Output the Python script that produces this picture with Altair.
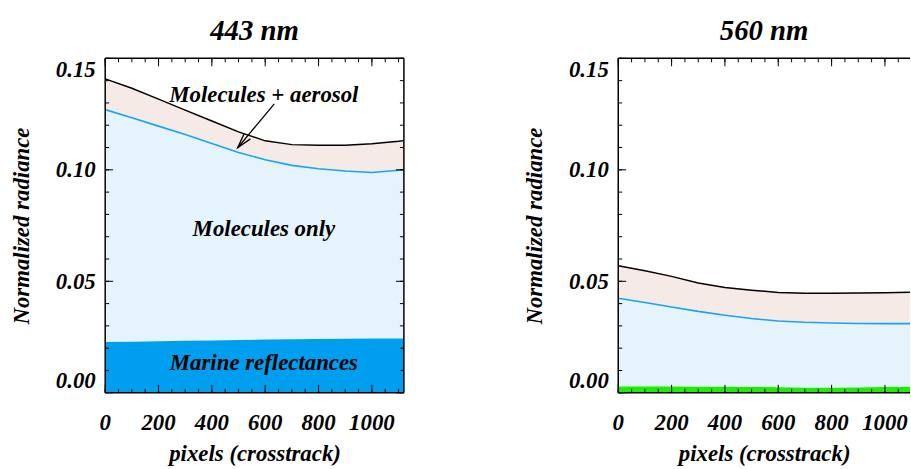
import altair as alt
import pandas as pd

# Crosstrack pixel positions at which the radiance profiles are sampled
pixels = [0, 100, 200, 300, 400, 500, 600, 700, 800, 900, 1000, 1100, 1120]

# 443 nm: top of atmosphere (molecules + aerosol), molecules only, marine part
total_443 = [0.1408, 0.1366, 0.1317, 0.1268, 0.1219, 0.1170, 0.1130, 0.1113,
             0.1110, 0.1110, 0.1117, 0.1128, 0.1131]
molecules_443 = [0.1270, 0.1234, 0.1196, 0.1158, 0.1118, 0.1078, 0.1045, 0.1020,
                 0.1005, 0.0995, 0.0988, 0.0998, 0.1000]
marine_443 = [0.0228, 0.0229, 0.0231, 0.0233, 0.0235, 0.0237, 0.0239, 0.0240,
              0.0241, 0.0242, 0.0243, 0.0243, 0.0243]

# 560 nm
total_560 = [0.0570, 0.0547, 0.0522, 0.0492, 0.0472, 0.0460, 0.0450, 0.0446,
             0.0446, 0.0447, 0.0449, 0.0451, 0.0451]
molecules_560 = [0.0424, 0.0405, 0.0385, 0.0365, 0.0348, 0.0333, 0.0322, 0.0316,
                 0.0313, 0.0311, 0.0310, 0.0310, 0.0310]
marine_560 = [0.0028, 0.0028, 0.0028, 0.0027, 0.0027, 0.0026, 0.0025, 0.0023,
              0.0023, 0.0024, 0.0026, 0.0027, 0.0027]

# Axis ticks and labels
x_major = [0, 200, 400, 600, 800, 1000]
x_minor = [0, 50, 100, 150, 200, 250, 300, 350, 400, 450, 500, 550, 600, 650,
           700, 750, 800, 850, 900, 950, 1000, 1050, 1100]
y_major = [0.0, 0.05, 0.10, 0.15]
y_minor = [0.0, 0.01, 0.02, 0.03, 0.04, 0.05, 0.06, 0.07, 0.08, 0.09, 0.10,
           0.11, 0.12, 0.13, 0.14, 0.15]

# Region labels of the 443 nm panel (text, pixel, radiance)
note_text = ["Molecules + aerosol", "Molecules only", "Marine reflectances"]
note_x = [595, 595, 595]
note_y = [0.1335, 0.0734, 0.0134]

# Arrow from the "Molecules + aerosol" label into the aerosol layer
arrow_from = (634, 0.1296)
arrow_to = (497, 0.1099)

FULL_RANGE = 1120          # full crosstrack extent of the frame
W, H = 301, 337            # panel size for the full extent
PX_PER_UNIT = W / FULL_RANGE
FONT = "Liberation Serif"
MAJOR, MINOR = 8, 4
FRAME = 1.5

text_style = dict(font=FONT, fontSize=23, fontStyle="italic", fontWeight="bold",
                  color="black")
ys = alt.Scale(domain=[0, 0.15], nice=False, zero=True)
y_axis = alt.Axis(values=y_major, format=".2f", ticks=False, domain=False,
                  grid=False, labelFlush=True, labelOverlap=False, labelPadding=10,
                  title="Normalized radiance", titlePadding=22)


def Y(field):
    return alt.Y(field, type="quantitative", scale=ys, axis=y_axis)


def panel(title, total, molecules, marine, marine_color, with_notes, xmax,
          right_side=True):
    width = round(xmax * PX_PER_UNIT)
    xs = alt.Scale(domain=[0, xmax], nice=False, zero=False)
    x_axis = alt.Axis(values=x_major, labels=False, ticks=False, domain=False,
                      grid=False, title="pixels (crosstrack)", titlePadding=50)

    def X(field):
        return alt.X(field, type="quantitative", scale=xs, axis=x_axis)

    df = pd.DataFrame({"pixel": pixels, "total": total,
                       "molecules": molecules, "marine": marine})
    base = alt.Chart(df)

    # stippled molecular layer, rendered as a pale tint
    mol_fill = base.mark_area(color="#E4F3FC", clip=True).encode(
        x=X("pixel"), y=Y("marine"), y2="total:Q")
    # aerosol layer between the molecules-only and total curves
    aer_fill = base.mark_area(color="#F5EAE6", clip=True).encode(
        x=X("pixel"), y=Y("molecules"), y2="total:Q")
    sea = base.mark_area(color=marine_color, clip=True).encode(
        x=X("pixel"), y=Y("marine"))
    mol_line = base.mark_line(color="#14A6F2", strokeWidth=1.6, clip=True).encode(
        x=X("pixel"), y=Y("molecules"))
    tot_line = base.mark_line(color="black", strokeWidth=1.5, clip=True).encode(
        x=X("pixel"), y=Y("total"))

    layers = [mol_fill, aer_fill, sea, mol_line, tot_line]

    # inward tick marks on all four sides of the frame
    for vals, size in ((x_minor, MINOR), (x_major, MAJOR)):
        tdf = pd.DataFrame({"v": [v for v in vals if v <= xmax]})
        layers.append(alt.Chart(tdf).mark_rule(color="black", strokeWidth=1).encode(
            x=X("v"), y=alt.value(H), y2=alt.value(H - size)))
        layers.append(alt.Chart(tdf).mark_rule(color="black", strokeWidth=1).encode(
            x=X("v"), y=alt.value(0), y2=alt.value(size)))
    for vals, size in ((y_minor, MINOR), (y_major, MAJOR)):
        tdf = pd.DataFrame({"v": vals})
        layers.append(alt.Chart(tdf).mark_rule(color="black", strokeWidth=1).encode(
            y=Y("v"), x=alt.value(0), x2=alt.value(size)))
        if right_side:
            layers.append(alt.Chart(tdf).mark_rule(color="black", strokeWidth=1).encode(
                y=Y("v"), x=alt.value(width), x2=alt.value(width - size)))

    # x tick labels
    ldf = pd.DataFrame({"v": x_major, "label": [str(v) for v in x_major]})
    layers.append(alt.Chart(ldf).mark_text(baseline="middle", align="center",
                                           **text_style).encode(
        x=X("v"), y=alt.value(H + 31), text="label:N"))

    # frame
    one = pd.DataFrame({"k": [0]})
    layers.append(alt.Chart(one).mark_rule(color="black", strokeWidth=FRAME).encode(
        x=alt.value(0), y=alt.value(0), y2=alt.value(H)))
    layers.append(alt.Chart(one).mark_rule(color="black", strokeWidth=FRAME).encode(
        x=alt.value(0), x2=alt.value(width), y=alt.value(0)))
    layers.append(alt.Chart(one).mark_rule(color="black", strokeWidth=FRAME).encode(
        x=alt.value(0), x2=alt.value(width), y=alt.value(H)))
    if right_side:
        layers.append(alt.Chart(one).mark_rule(color="black", strokeWidth=FRAME).encode(
            x=alt.value(width), y=alt.value(0), y2=alt.value(H)))

    if with_notes:
        notes = pd.DataFrame({"label": note_text, "px": note_x, "val": note_y})
        layers.append(alt.Chart(notes).mark_text(baseline="middle", align="center",
                                                 **text_style).encode(
            x=X("px"), y=Y("val"), text="label:N"))
        arrow = pd.DataFrame({"x": [arrow_from[0]], "y": [arrow_from[1]],
                              "x2": [arrow_to[0]], "y2": [arrow_to[1]]})
        layers.append(alt.Chart(arrow).mark_rule(color="black", strokeWidth=1.3).encode(
            x=X("x"), y=Y("y"), x2="x2:Q", y2="y2:Q"))
        layers.append(alt.Chart(arrow).mark_point(
            shape="M-0.55,2L0,0L0.55,2", filled=False, size=225, angle=219.6,
            stroke="black", strokeWidth=1.3, opacity=1).encode(
            x=X("x2"), y=Y("y2")))

    return alt.layer(*layers).properties(
        width=width, height=H,
        title=alt.Title(title, font=FONT, fontSize=29, fontStyle="italic",
                        fontWeight="bold", color="black", offset=12))


left = panel("443 nm", total_443, molecules_443, marine_443, "#009EEF", True,
             FULL_RANGE)
# the second panel runs off the right edge of the figure
right = panel("560 nm", total_560, molecules_560, marine_560, "#1CEE00", False,
              1094, right_side=False)

chart = alt.hconcat(left, right, spacing=119).properties(
    padding={"left": 10, "top": 15, "right": 0, "bottom": 0}
).configure_view(
    strokeWidth=0
).configure_axis(
    labelFont=FONT, labelFontSize=23, labelFontStyle="italic", labelFontWeight="bold",
    labelColor="black", titleFont=FONT, titleFontSize=23, titleFontStyle="italic",
    titleFontWeight="bold", titleColor="black"
)

chart.save("out.html", embed_options={"renderer": "svg", "actions": False})
